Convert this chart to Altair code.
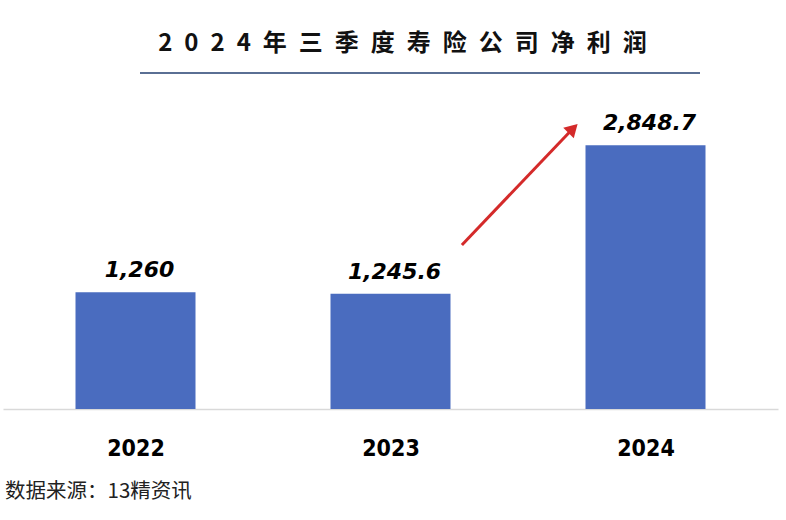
import altair as alt
import pandas as pd

years = ["2022", "2023", "2024"]
profits = [1260, 1245.6, 2848.7]
labels = ["1,260", "1,245.6", "2,848.7"]

# arrow annotation (position in category units and value units)
arrow_x = [1.78, 2.21]
arrow_y = [1772, 3014]

title_chars = list("2024年三季度寿险公司净利润")
title_text = "\u2002".join(title_chars)
source_text = "数据来源：13精资讯"

W, H = 775, 324
df = pd.DataFrame({"year": years, "profit": profits, "label": labels,
                   "pos": [i + 0.5 for i in range(len(years))]})
arrow_df = pd.DataFrame({"x0": [arrow_x[0]], "x1": [arrow_x[1]], "y0": [arrow_y[0]], "y1": [arrow_y[1]]})
head_df = pd.DataFrame({"x": [arrow_x[1]], "y": [arrow_y[1]]})

yscale = alt.Scale(domain=[0, 3500])
xscale = alt.Scale(domain=[0, 3], nice=False, zero=False)

label_expr = " : ".join(
    [f"datum.value == {i + 0.5} ? '{y}'" for i, y in enumerate(years)]
) + " : ''"

bars = alt.Chart(df).mark_bar(color="#4a6cbf", width=120).encode(
    x=alt.X("pos:Q", scale=xscale,
            axis=alt.Axis(title=None, values=[0.5, 1.5, 2.5], labelExpr=label_expr, grid=False,
                          labelFont="DejaVu Sans Condensed", labelFontWeight="bold",
                          labelFontSize=23, labelColor="#000000", labelPadding=28,
                          ticks=False, domainColor="#d9d9d9", domainWidth=1.5)),
    y=alt.Y("profit:Q", scale=yscale, axis=None),
)

text = alt.Chart(df).mark_text(
    font="DejaVu Sans", fontStyle="italic", fontWeight="bold", fontSize=22,
    baseline="bottom", dy=-10, dx=4, color="#000000"
).encode(
    x=alt.X("pos:Q", scale=xscale),
    y=alt.Y("profit:Q", scale=yscale),
    text="label:N",
)

arrow = alt.Chart(arrow_df).mark_rule(color="#d42a2a", strokeWidth=3).encode(
    x=alt.X("x0:Q", scale=xscale), x2="x1:Q",
    y=alt.Y("y0:Q", scale=yscale), y2="y1:Q",
)
head = alt.Chart(head_df).mark_point(shape="triangle", filled=True, color="#d42a2a",
                                     size=220, angle=45, opacity=1).encode(
    x=alt.X("x:Q", scale=xscale),
    y=alt.Y("y:Q", scale=yscale),
)

underline = alt.Chart(df).mark_rule(color="#5a6f94", strokeWidth=2).encode(
    x=alt.value(137), x2=alt.value(697), y=alt.value(-12)
)
source = alt.Chart(pd.DataFrame({"t": [source_text]})).mark_text(
    font="Noto Sans CJK SC", fontSize=20.5, align="left", baseline="middle", color="#222222"
).encode(x=alt.value(2), y=alt.value(H + 83), text="t:N")

chart = alt.layer(bars, text, arrow, head, underline, source).properties(
    width=W, height=H,
    background="#ffffff",
    title=alt.TitleParams(title_text, font="Noto Sans CJK SC", fontSize=24, fontWeight="bold",
                          color="#111111", anchor="middle", offset=16, dx=12),
    autosize=alt.AutoSizeParams(type="none"),
    padding={"left": 3, "top": 85, "right": 8, "bottom": 111},
).configure_view(strokeWidth=0)

chart.save("out.html", embed_options={"renderer": "svg", "actions": False})
